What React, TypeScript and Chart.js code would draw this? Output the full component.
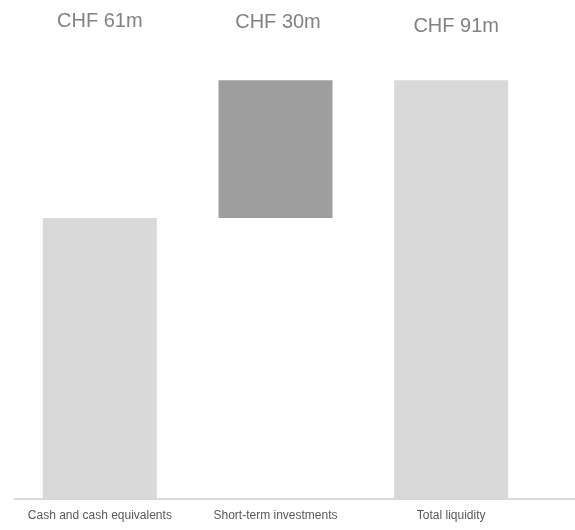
import React, { useEffect, useRef } from "react";
import { Chart, registerables } from "chart.js";

Chart.register(...registerables);

const categories = ["Cash and cash equivalents", "Short-term investments", "Total liquidity"];
const amounts = [61, 30, 91];
const isTotal = [false, false, true];
const valueLabels = ["CHF 61m", "CHF 30m", "CHF 91m"];
const barColors = ["#d9d9d9", "#9e9e9e", "#d9d9d9"];

function buildRanges(): [number, number][] {
  let running = 0;
  return amounts.map((v, i) => {
    if (isTotal[i]) return [0, v] as [number, number];
    const r: [number, number] = [running, running + v];
    running += v;
    return r;
  });
}

const labelOffsets = [
  { dx: 0, y: 21 },
  { dx: 2.5, y: 22.5 },
  { dx: 5, y: 26.5 },
];

const topLabelsPlugin = {
  id: "topLabels",
  afterDatasetsDraw(chart: any) {
    const ctx = chart.ctx;
    const meta = chart.getDatasetMeta(0);
    ctx.save();
    ctx.font = "20px Arial, 'Liberation Sans', sans-serif";
    ctx.fillStyle = "#828282";
    ctx.textAlign = "center";
    ctx.textBaseline = "middle";
    meta.data.forEach((bar: any, i: number) => {
      const o = labelOffsets[i];
      ctx.fillText(valueLabels[i], bar.x + o.dx, o.y);
    });
    // baseline axis line
    const y = chart.scales.y.getPixelForValue(0);
    ctx.strokeStyle = "#d9d9d9";
    ctx.lineWidth = 2;
    ctx.beginPath();
    ctx.moveTo(14, y + 1);
    ctx.lineTo(chart.width, y + 1);
    ctx.stroke();
    ctx.restore();
  },
};

export default function App() {
  const ref = useRef<HTMLCanvasElement | null>(null);
  useEffect(() => {
    if (!ref.current) return;
    const chart = new Chart(ref.current, {
      type: "bar",
      data: {
        labels: categories,
        datasets: [
          {
            data: buildRanges() as any,
            backgroundColor: barColors,
            borderWidth: 0,
            barPercentage: 0.649,
            categoryPercentage: 1,
          },
        ],
      },
      options: {
        animation: false,
        responsive: false,
        maintainAspectRatio: false,
        layout: { padding: { left: 12, right: 36, top: 39, bottom: 8 } },
        plugins: { legend: { display: false }, tooltip: { enabled: false } },
        scales: {
          x: {
            grid: { display: false, drawTicks: false },
            border: { display: false },
            afterFit: (scale: any) => {
              scale.height = 24;
            },
            ticks: {
              color: "#595959",
              padding: 10,
              maxRotation: 0,
              autoSkip: false,
              font: { family: "Arial, 'Liberation Sans', sans-serif", size: 12 },
            },
          },
          y: { display: false, min: 0, max: 100 },
        },
      },
      plugins: [topLabelsPlugin],
    });
    return () => chart.destroy();
  }, []);
  return (
    <div style={{ position: "absolute", left: 0, top: 0, width: 575, height: 530, background: "#fff" }}>
      <canvas ref={ref} width={575} height={530} style={{ width: 575, height: 530 }} />
    </div>
  );
}
